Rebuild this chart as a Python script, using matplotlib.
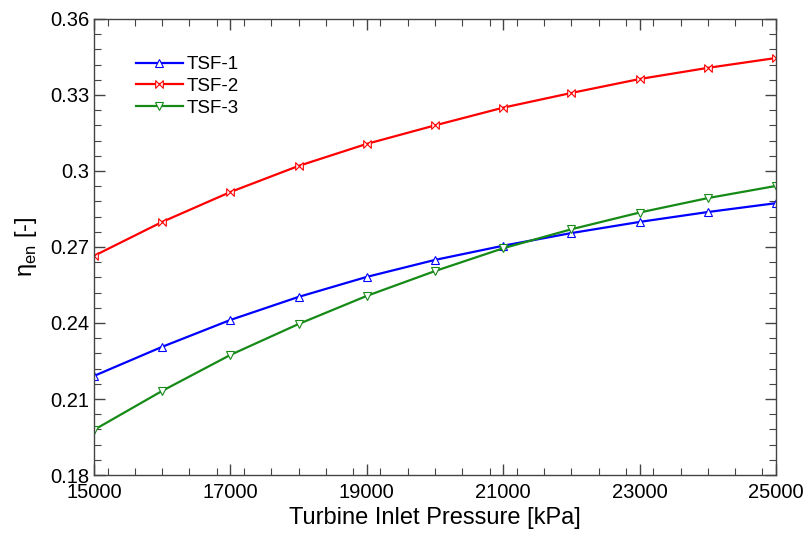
import matplotlib
matplotlib.use("Agg")
import matplotlib.pyplot as plt
from matplotlib.path import Path
from matplotlib.ticker import MultipleLocator

pressure = [15000, 16000, 17000, 18000, 19000, 20000, 21000, 22000, 23000, 24000, 25000]
tsf1 = [0.2191, 0.2306, 0.2412, 0.2503, 0.2582, 0.2649, 0.2705, 0.2755, 0.2799, 0.2838, 0.2873]
tsf2 = [0.2665, 0.2799, 0.2917, 0.3020, 0.3107, 0.3180, 0.3250, 0.3308, 0.3363, 0.3407, 0.3446]
tsf3 = [0.1978, 0.2132, 0.2274, 0.2396, 0.2507, 0.2605, 0.2695, 0.2770, 0.2836, 0.2893, 0.2941]
labels = ["TSF-1", "TSF-2", "TSF-3"]
xticks = [15000, 17000, 19000, 21000, 23000, 25000]
yticks = [0.18, 0.21, 0.24, 0.27, 0.3, 0.33, 0.36]
ytick_labels = ["0.18", "0.21", "0.24", "0.27", "0.3", "0.33", "0.36"]

plt.rcParams['font.family'] = ['Liberation Sans', 'DejaVu Sans']
plt.rcParams['mathtext.fontset'] = 'custom'
plt.rcParams['mathtext.rm'] = 'Liberation Sans'

bowtie = Path([(-1, -1), (1, 1), (1, -1), (-1, 1), (-1, -1)],
              [Path.MOVETO, Path.LINETO, Path.LINETO, Path.LINETO, Path.CLOSEPOLY])

fig = plt.figure(figsize=(8.06, 5.33), dpi=100)
ax = fig.add_axes([0.1166, 0.1088, 0.8462, 0.8556])

styles = [("#0000FF", "^"), ("#FF0000", bowtie), ("#168A16", "v")]
for ys, lab, (c, m) in zip([tsf1, tsf2, tsf3], labels, styles):
    ax.plot(pressure, ys, color=c, lw=1.6, marker=m, markersize=5.5,
            markerfacecolor='white', markeredgecolor=c, markeredgewidth=0.8, label=lab)

ax.set_xlim(15000, 25000)
ax.set_ylim(0.18, 0.36)
ax.set_xticks(xticks)
ax.set_xticklabels([str(v) for v in xticks])
ax.set_yticks(yticks)
ax.set_yticklabels(ytick_labels)
ax.xaxis.set_minor_locator(MultipleLocator(400))
ax.yaxis.set_minor_locator(MultipleLocator(0.006))
ax.tick_params(which='both', direction='in', top=True, right=True, labelsize=14.5, color='#444444')
ax.tick_params(which='major', length=8, width=1)
ax.tick_params(which='minor', length=5, width=0.8)
ax.tick_params(axis='x', pad=6)
for s in ax.spines.values():
    s.set_color('#444444')
    s.set_linewidth(1.0)

ax.set_xlabel("Turbine Inlet Pressure [kPa]", fontsize=17, labelpad=3)
ax.set_ylabel(r"η$_{\rm en}$ [-]", fontsize=17, labelpad=8)

leg = ax.legend(loc='upper left', bbox_to_anchor=(0.05, 0.935), frameon=False,
                fontsize=13.5, handlelength=2.55, handletextpad=0.15, labelspacing=0.25,
                borderaxespad=0)

fig.savefig("out.png", dpi=100)
